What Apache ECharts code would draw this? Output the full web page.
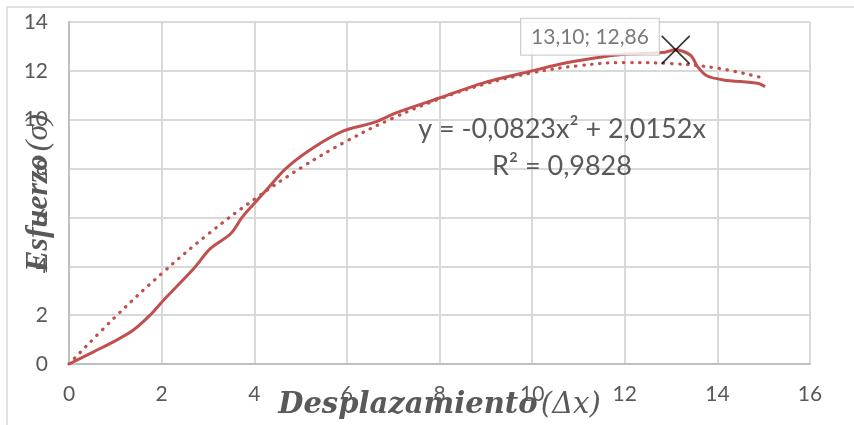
<!DOCTYPE html>
<html>
<head>
<meta charset="utf-8">
<script src="https://cdn.jsdelivr.net/npm/echarts@6/dist/echarts.min.js"></script>
<style>
html,body{margin:0;padding:0;background:#fff;}
#chart{width:854px;height:425px;}
</style>
</head>
<body>
<div id="chart"></div>
<script>
// Measured data (Desplazamiento, Esfuerzo)
const dataX = [0, 0.53, 1.03, 1.39, 1.75, 2.04, 2.69, 3.05, 3.49, 3.74, 3.99, 4.30, 4.68, 5.29, 5.94, 6.59, 7.09, 8.03, 8.97, 10.0, 10.77, 11.5, 12.0, 12.82, 13.10, 13.42, 13.58, 13.77, 14.13, 14.89, 15.03];
const dataY = [0, 0.50, 0.98, 1.39, 2.0, 2.61, 3.9, 4.72, 5.33, 6.01, 6.55, 7.2, 8.0, 8.87, 9.55, 9.89, 10.30, 10.91, 11.52, 12.0, 12.34, 12.57, 12.68, 12.75, 12.86, 12.64, 12.15, 11.8, 11.63, 11.48, 11.35];
// Polynomial trendline
const trendX = [0, 1, 2, 3, 4, 5, 6, 7, 8, 9, 10, 11, 12, 13, 14, 14.9];
const trendY = [0, 1.93, 3.70, 5.31, 6.74, 8.02, 9.13, 10.07, 10.85, 11.47, 11.92, 12.21, 12.34, 12.30, 12.11, 11.75];
// Highlighted point
const peakPoint = [13.10, 12.86];
const equationText = 'y = -0,0823x² + 2,0152x\nR² = 0,9828';
const xTicks = {min: 0, max: 16, interval: 2};
const yTicks = {min: 0, max: 14, interval: 2};

const fmt = v => v.toFixed(2).replace('.', ',');
const grey = '#595959';
const red = '#C0504D';

const chart = echarts.init(document.getElementById('chart'));
chart.setOption({
  animation: false,
  backgroundColor: '#fff',
  grid: {left: 69, right: 44, top: 22, bottom: 61, containLabel: false, outerBoundsMode: 'none'},
  xAxis: {
    type: 'value', min: xTicks.min, max: xTicks.max, interval: xTicks.interval,
    axisLine: {show: true, lineStyle: {color: '#BFBFBF', width: 2}},
    axisTick: {show: false},
    splitLine: {show: true, lineStyle: {color: '#D9D9D9', width: 2}},
    axisLabel: {color: grey, fontFamily: 'Lato', fontSize: 21, margin: 20},
    name: '{a|Desplazamiento} {b|(Δx)}',
    nameLocation: 'middle',
    nameGap: 41,
    nameMoveOverlap: false,
    nameTextStyle: {
      verticalAlign: 'middle',
      rich: {
        a: {fontFamily: 'DejaVu Serif', fontStyle: 'italic', fontWeight: 'bold', fontSize: 29, color: grey},
        b: {fontFamily: 'DejaVu Serif', fontStyle: 'italic', fontSize: 29, color: grey}
      }
    }
  },
  yAxis: {
    type: 'value', min: yTicks.min, max: yTicks.max, interval: yTicks.interval,
    axisLine: {show: true, lineStyle: {color: '#BFBFBF', width: 2}},
    axisTick: {show: false},
    splitLine: {show: true, lineStyle: {color: '#D9D9D9', width: 2}},
    axisLabel: {color: grey, fontFamily: 'Lato', fontSize: 21, margin: 21},
    name: '{a|Esfuerzo} {b|(σ)}',
    nameLocation: 'middle',
    nameGap: 30,
    nameRotate: 90,
    nameMoveOverlap: false,
    nameTextStyle: {
      verticalAlign: 'middle',
      rich: {
        a: {fontFamily: 'Liberation Serif', fontStyle: 'italic', fontWeight: 'bold', fontSize: 32, color: grey},
        b: {fontFamily: 'Liberation Serif', fontStyle: 'italic', fontSize: 32, color: grey}
      }
    }
  },
  graphic: [
    {type: 'rect', silent: true, shape: {x: 7, y: 7, width: 900, height: 500},
     style: {fill: 'none', stroke: '#D9D9D9', lineWidth: 1.5}, z: -10},
    {type: 'text', x: 562, y: 148, z: 50,
     style: {text: equationText, font: '27px Lato', fill: grey, align: 'center', verticalAlign: 'middle', lineHeight: 37}}
  ],
  series: [
    {
      type: 'line', smooth: 0.3, showSymbol: false, z: 3,
      data: dataX.map((x, i) => [x, dataY[i]]),
      lineStyle: {color: red, width: 3}
    },
    {
      type: 'line', smooth: 0.4, showSymbol: false, z: 4,
      data: trendX.map((x, i) => [x, trendY[i]]),
      lineStyle: {color: red, width: 3.2, type: [0.5, 7.5], cap: 'round'}
    },
    {
      type: 'scatter', z: 10,
      data: [peakPoint],
      symbol: 'path://M0,0L10,10M10,0L0,10',
      symbolSize: 28,
      itemStyle: {color: 'rgba(0,0,0,0)', borderColor: '#000', borderWidth: 1.6},
      label: {
        show: true, position: 'left', distance: 5, offset: [3, -13],
        formatter: p => fmt(p.value[0]) + '; ' + fmt(p.value[1]),
        fontFamily: 'Lato', fontSize: 21, color: grey, lineHeight: 22,
        backgroundColor: '#fff', borderColor: '#BFBFBF', borderWidth: 1,
        padding: [7, 10]
      }
    }
  ]
});
</script>
</body>
</html>
